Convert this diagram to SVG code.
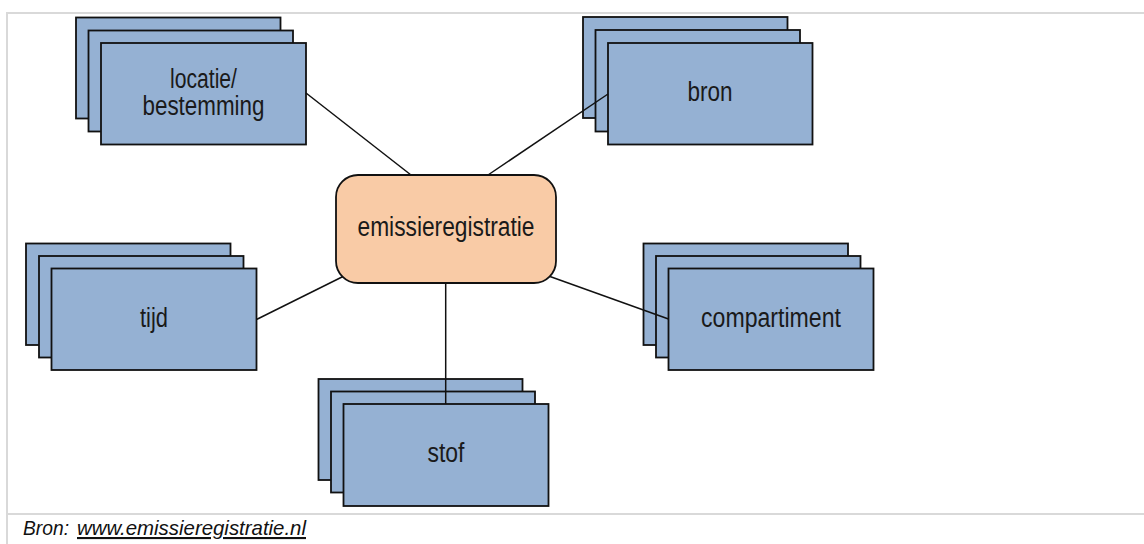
<svg xmlns="http://www.w3.org/2000/svg" width="1144" height="544" viewBox="0 0 1144 544">
<style>
.frame{stroke:#d9d9d9;stroke-width:2;fill:none}
.card{fill:#95b1d3;stroke:#111;stroke-width:1.8}
.hub{fill:#f9cba6;stroke:#111;stroke-width:1.8}
.lbl{font-family:"Liberation Sans",Arial,sans-serif;font-size:27px;fill:#1a1a1a;text-anchor:middle}
.conn line{stroke:#111;stroke-width:1.5}
.foot{font-family:"Liberation Sans",Arial,sans-serif;font-size:21px;font-style:italic;fill:#111}
</style>
<rect width="1144" height="544" fill="#fff"/>
<g id="frame">
<line class="frame" x1="7" y1="13" x2="1144" y2="13"/>
<line class="frame" x1="7" y1="12" x2="7" y2="544"/>
<line class="frame" x1="7" y1="514" x2="1144" y2="514"/>
</g>
<g id="node-locatie">
<rect class="card" x="76" y="17.5" width="204.5" height="101"/>
<rect class="card" x="88.5" y="30.5" width="204.5" height="101"/>
<rect class="card" x="101" y="43" width="205" height="101.5"/>
<text class="lbl" x="203.5" y="88" textLength="67" lengthAdjust="spacingAndGlyphs">locatie/</text>
<text class="lbl" x="203.5" y="115" textLength="122" lengthAdjust="spacingAndGlyphs">bestemming</text>
</g>
<g id="node-bron">
<rect class="card" x="583" y="17" width="204.5" height="101"/>
<rect class="card" x="595.5" y="30" width="204.5" height="101.5"/>
<rect class="card" x="608" y="43" width="204.5" height="101.5"/>
<text class="lbl" x="710" y="101" textLength="45" lengthAdjust="spacingAndGlyphs">bron</text>
</g>
<g id="node-tijd">
<rect class="card" x="26" y="243.5" width="204.5" height="101.5"/>
<rect class="card" x="39" y="256" width="204.5" height="101.5"/>
<rect class="card" x="51.5" y="268.5" width="205" height="101.5"/>
<text class="lbl" x="154" y="327" textLength="28" lengthAdjust="spacingAndGlyphs">tijd</text>
</g>
<g id="node-compartiment">
<rect class="card" x="643.5" y="243.5" width="204.5" height="101.5"/>
<rect class="card" x="656" y="256" width="204.5" height="101.5"/>
<rect class="card" x="668.5" y="268.5" width="205" height="101.5"/>
<text class="lbl" x="771" y="327" textLength="140" lengthAdjust="spacingAndGlyphs">compartiment</text>
</g>
<g id="node-stof">
<rect class="card" x="318.5" y="379" width="204" height="101"/>
<rect class="card" x="331" y="391.5" width="204" height="101"/>
<rect class="card" x="343.5" y="404" width="205" height="102"/>
<text class="lbl" x="446" y="462" textLength="37" lengthAdjust="spacingAndGlyphs">stof</text>
</g>
<g id="node-emissieregistratie">
<rect class="hub" x="336" y="175" width="220" height="108" rx="22" ry="22"/>
<text class="lbl" x="446" y="236" textLength="177" lengthAdjust="spacingAndGlyphs">emissieregistratie</text>
</g>
<g id="connectors" class="conn">
<line x1="306" y1="93" x2="411" y2="175"/>
<line x1="488" y1="175" x2="608" y2="94"/>
<line x1="256.5" y1="319.5" x2="343" y2="276.5"/>
<line x1="550" y1="276.5" x2="668.5" y2="319"/>
<line x1="445.7" y1="283" x2="445.7" y2="404"/>
</g>
<g id="footer">
<text class="foot" x="23" y="535" textLength="46" lengthAdjust="spacingAndGlyphs">Bron:</text>
<text class="foot" x="77" y="535" textLength="229" lengthAdjust="spacingAndGlyphs" text-decoration="underline">www.emissieregistratie.nl</text>
</g>
</svg>
